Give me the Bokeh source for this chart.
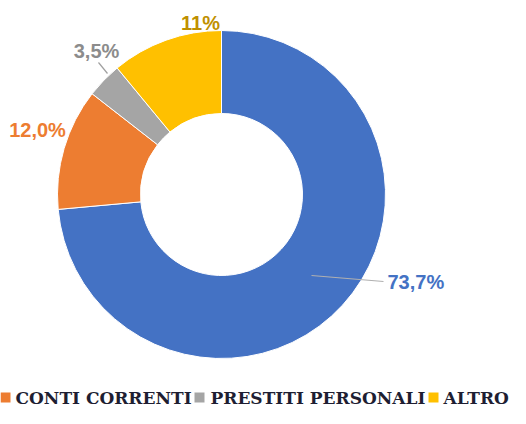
import math
from bokeh.plotting import figure
from bokeh.models import Range1d, ColumnDataSource
from bokeh.core.properties import value
from bokeh.embed import file_html
from bokeh.resources import INLINE

categories = ["MUTUI", "CONTI CORRENTI", "PRESTITI PERSONALI", "ALTRO"]
values = [73.7, 12.0, 3.5, 11.0]
labels = ["73,7%", "12,0%", "3,5%", "11%"]
colors = ["#4472C4", "#ED7D31", "#A5A5A5", "#FFC000"]
label_colors = ["#4472C4", "#ED7D31", "#8C8C8C", "#BF9000"]

W, H = 510, 408

def px(x):
    return x

def py(y):
    return H - y

p = figure(width=W, height=H, output_backend="svg", toolbar_location=None,
           x_range=Range1d(0, W), y_range=Range1d(0, H),
           x_axis_type=None, y_axis_type=None, min_border=0)
p.outline_line_color = None
p.grid.visible = False

# donut
cx, cy = px(221), py(194)
r_out, r_in = 164, 81
total = sum(values)
starts, ends = [], []
cum = 0.0
for v in values:
    a0 = math.pi / 2 - 2 * math.pi * cum / total
    cum += v
    a1 = math.pi / 2 - 2 * math.pi * cum / total
    starts.append(a1)
    ends.append(a0)

src = ColumnDataSource(dict(start=starts, end=ends, color=colors))
p.annular_wedge(x=cx, y=cy, inner_radius=r_in, outer_radius=r_out,
                start_angle="start", end_angle="end", direction="anticlock",
                fill_color="color", line_color="white", line_width=1, source=src)

# leader lines
p.line(x=[px(311), px(383)], y=[py(275), py(281)], line_color="#B0B0B0", line_width=1.2)
p.line(x=[px(98), px(107)], y=[py(62), py(73)], line_color="#A0A0A0", line_width=1.2)

# data labels
lab_pos = [(387, 281), (37, 129), (96, 50), (200, 22)]
for (lx, ly), t, c in zip(lab_pos, labels, label_colors):
    align = "left" if t == "73,7%" else "center"
    p.text(x=[px(lx)], y=[py(ly)], text=[t], text_color=c,
           text_font=value("Liberation Sans"), text_font_style="bold",
           text_font_size="20px", text_align=align, text_baseline="middle")

# legend (first item falls outside the visible area in the reference)
leg_sq_x = [5, 199, 433]
leg_tx_x = [15, 210, 443]
leg_y = 397
for i, cat in enumerate(categories[1:], start=1):
    p.scatter(x=[px(leg_sq_x[i - 1])], y=[py(leg_y)], marker="square", size=10,
              fill_color=colors[i], line_color=None)
    p.text(x=[px(leg_tx_x[i - 1])], y=[py(leg_y)], text=[cat], text_color="#1E1E32",
           text_font=value("DejaVu Serif"), text_font_style="bold",
           text_font_size="17px", text_align="left", text_baseline="middle")

open("out.html", "w").write(file_html(p, INLINE))
